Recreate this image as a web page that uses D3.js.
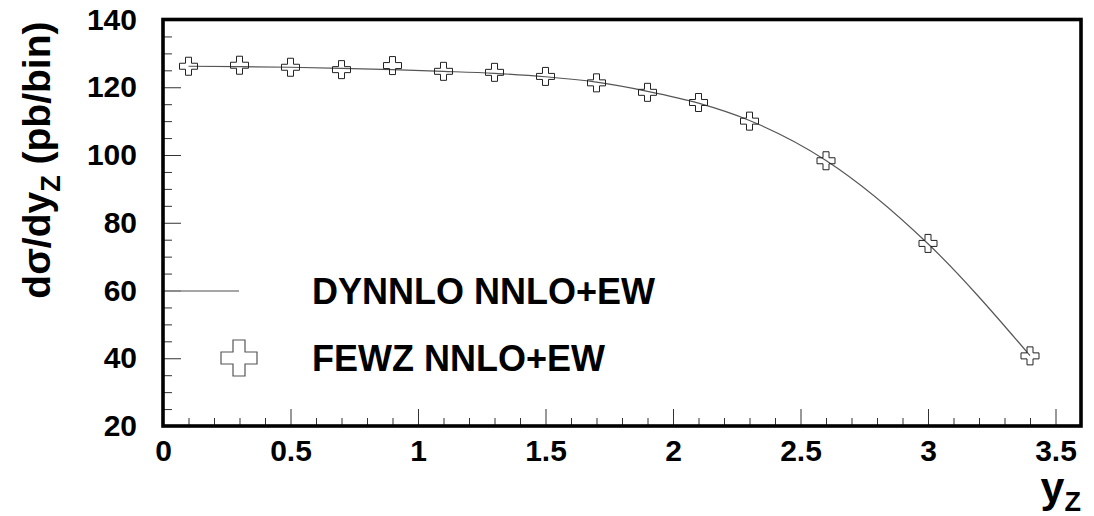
<!DOCTYPE html>
<html>
<head>
<meta charset="utf-8">
<script src="https://cdn.jsdelivr.net/npm/d3@7"></script>
<style>
    body { margin: 0; background: #fff; }
    text { font-family: "Liberation Sans", Arial, Helvetica, sans-serif; font-weight: bold; fill: #000; }
</style>
</head>
<body>
<div id="chart"></div>
<script>

// rapidity bins (bin centres)
var yz = [0.1, 0.3, 0.5, 0.7, 0.9, 1.1, 1.3, 1.5, 1.7, 1.9, 2.1, 2.3, 2.6, 3.0, 3.4];

// FEWZ NNLO+EW, pb/bin (markers)
var fewz = [126.2, 126.5, 125.9, 125.2, 126.4, 124.7, 124.4, 123.2, 121.3, 118.5, 115.5, 110.0, 98.3, 73.9, 40.7];

// DYNNLO NNLO+EW, pb/bin (curve)
var dynnlo = [126.2, 126.1, 125.9, 125.6, 125.2, 124.7, 124.1, 123.1, 121.5, 118.8, 115.3, 110.2, 98.4, 73.8, 40.8];

var xTicks = [0, 0.5, 1, 1.5, 2, 2.5, 3, 3.5];
var yTicks = [20, 40, 60, 80, 100, 120, 140];

var legendNames = ["DYNNLO NNLO+EW", "FEWZ NNLO+EW"];


const W = 1094, H = 516;
const margin = {top: 19.5, right: 13, bottom: 90, left: 163};
const width = W - margin.left - margin.right,
      height = H - margin.top - margin.bottom;

const svg = d3.select("#chart")
    .append("svg")
    .attr("width", W)
    .attr("height", H)
    .append("g")
    .attr("transform", "translate(" + margin.left + "," + margin.top + ")");

var xScale = d3.scaleLinear().domain([0, 3.6]).range([0, width]);
var yScale = d3.scaleLinear().domain([20, 140]).range([height, 0]);

// minor ticks
var xMinor = d3.range(0, 36).map(function (i) { return i / 10; })
    .filter(function (v) { return Math.abs(v * 2 - Math.round(v * 2)) > 1e-6; });
var yMinor = d3.range(20, 141, 5).filter(function (v) { return v % 20 !== 0; });

svg.append("g")
    .attr("class", "x-minor")
    .attr("transform", "translate(0," + height + ")")
    .call(d3.axisBottom(xScale).tickValues(xMinor).tickSize(-8).tickFormat(""));

svg.append("g")
    .attr("class", "x-axis")
    .attr("transform", "translate(0," + height + ")")
    .call(d3.axisBottom(xScale).tickValues(xTicks).tickSize(-17).tickPadding(14)
        .tickFormat(function (d) { return d; }));

svg.append("g")
    .attr("class", "y-minor")
    .call(d3.axisLeft(yScale).tickValues(yMinor).tickSize(-9).tickFormat(""));

svg.append("g")
    .attr("class", "y-axis")
    .call(d3.axisLeft(yScale).tickValues(yTicks).tickSize(-18).tickPadding(26));

svg.selectAll(".domain").remove();
svg.selectAll(".tick line").attr("stroke", "#333").attr("stroke-width", 1);
svg.selectAll(".x-axis text").style("font-size", "30px").attr("fill", "#000");
svg.selectAll(".y-axis text").style("font-size", "30px").attr("fill", "#000");

// DYNNLO curve
var points = yz.map(function (x, i) { return {x: x, y: dynnlo[i]}; });
var line = d3.line()
    .x(function (d) { return xScale(d.x); })
    .y(function (d) { return yScale(d.y); })
    .curve(d3.curveMonotoneX);

svg.append("path")
    .datum(points)
    .attr("d", line)
    .attr("fill", "none")
    .attr("stroke", "#555")
    .attr("stroke-width", 1.2);

// open cross marker (ROOT style 28)
function crossPath(s) {
    var a = s / 2, b = s / 6;
    return "M" + (-b) + "," + (-a) + "H" + b + "V" + (-b) + "H" + a + "V" + b + "H" + b +
        "V" + a + "H" + (-b) + "V" + b + "H" + (-a) + "V" + (-b) + "H" + (-b) + "Z";
}

svg.selectAll("path.fewz")
    .data(yz)
    .enter()
    .append("path")
    .attr("class", "fewz")
    .attr("transform", function (d, i) { return "translate(" + xScale(d) + "," + yScale(fewz[i]) + ")"; })
    .attr("d", crossPath(18))
    .attr("fill", "none")
    .attr("stroke", "#222")
    .attr("stroke-width", 1);

// frame
svg.append("rect")
    .attr("x", 0).attr("y", 0)
    .attr("width", width).attr("height", height)
    .attr("fill", "none")
    .attr("stroke", "#000")
    .attr("stroke-width", 3.6);

// legend
var legend = svg.append("g").attr("class", "legend");

legend.append("line")
    .attr("x1", 2).attr("x2", 76)
    .attr("y1", 271.5).attr("y2", 271.5)
    .attr("stroke", "#888")
    .attr("stroke-width", 1.3);

legend.append("path")
    .attr("transform", "translate(76,338.5)")
    .attr("d", crossPath(36))
    .attr("fill", "none")
    .attr("stroke", "#555")
    .attr("stroke-width", 1.2);

legend.selectAll("text")
    .data(legendNames)
    .enter()
    .append("text")
    .attr("x", 149)
    .attr("y", function (d, i) { return 284.5 + i * 67; })
    .style("font-size", "36px")
    .text(function (d) { return d; });

// axis titles
var xt = svg.append("text")
    .attr("x", width)
    .attr("y", height + 76)
    .attr("text-anchor", "end")
    .style("font-size", "43px");
xt.append("tspan").text("y");
xt.append("tspan").attr("dy", 9).style("font-size", "27px").text("Z");

var yt = svg.append("text")
    .attr("transform", "translate(" + (50 - margin.left) + ",2) rotate(-90)")
    .attr("text-anchor", "end")
    .style("font-size", "39px");
yt.append("tspan").text("dσ/dy");
yt.append("tspan").attr("dy", 10).style("font-size", "27px").text("Z");
yt.append("tspan").attr("dy", -10).text(" (pb/bin)");

</script>
</body>
</html>
